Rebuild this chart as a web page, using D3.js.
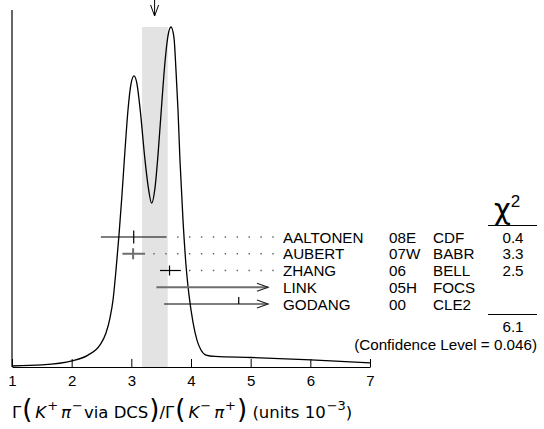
<!DOCTYPE html>
<html>
<head>
<meta charset="utf-8">
<script src="https://cdn.jsdelivr.net/npm/d3@7/dist/d3.min.js"></script>
<style>
  html, body { margin: 0; padding: 0; background: #fff; }
  svg { display: block; }
</style>
</head>
<body>
<div id="chart"></div>
<script>
// ---------------- data ----------------
// ideogram curve (x in units of 1e-3, y relative height)
const curveX = [1.0, 1.503, 2.006, 2.274, 2.475, 2.575, 2.642, 2.693, 2.743, 2.793, 2.843, 2.894, 2.944, 2.994, 3.045, 3.095, 3.145, 3.229, 3.279, 3.341, 3.396, 3.447, 3.514, 3.564, 3.614, 3.665, 3.715, 3.748, 3.782, 3.815, 3.866, 3.916, 3.966, 4.033, 4.1, 4.167, 4.251, 4.402, 5.005, 6.011, 7.0];
const curveY = [0.003, 0.006, 0.018, 0.035, 0.065, 0.100, 0.144, 0.197, 0.285, 0.388, 0.506, 0.638, 0.756, 0.832, 0.856, 0.832, 0.762, 0.609, 0.535, 0.482, 0.526, 0.624, 0.785, 0.897, 0.974, 1.0, 0.968, 0.874, 0.756, 0.609, 0.432, 0.300, 0.212, 0.132, 0.079, 0.050, 0.035, 0.031, 0.028, 0.021, 0.012];

// weighted average band and its marker
const avgValue = 3.39;
const avgBand = [3.18, 3.61];

// measurements
const names = ["AALTONEN", "AUBERT", "ZHANG", "LINK", "GODANG"];
const years = ["08E", "07W", "06", "05H", "00"];
const experiments = ["CDF", "BABR", "BELL", "FOCS", "CLE2"];
const centralValues = [3.04, 3.03, 3.64, null, 4.80];
const lowerEdges = [2.49, 2.85, 3.48, 3.42, 3.55];
const upperEdges = [3.59, 3.23, 3.83, null, null];   // null = extends off to the right (arrow)
const chi2Values = ["0.4", "3.3", "2.5", "", ""];
const chi2Total = "6.1";
const confidenceText = "(Confidence Level = 0.046)";

const xTicks = [1, 2, 3, 4, 5, 6, 7];

// ---------------- drawing ----------------
const W = 544, H = 429;
const svg = d3.select("#chart").append("svg").attr("width", W).attr("height", H);

const x = d3.scaleLinear().domain([1, 7]).range([12, 370]);
const y = d3.scaleLinear().domain([0, 1]).range([367, 27]);
const rowY = d3.scalePoint().domain(names).range([237, 304]);
const arrowEndX = 268;
const sans = "'Liberation Sans', Arial, Helvetica, sans-serif";
const fs = 15.2;

// band
svg.append("rect")
  .attr("x", x(avgBand[0])).attr("width", x(avgBand[1]) - x(avgBand[0]))
  .attr("y", y(1)).attr("height", y(0) - y(1))
  .attr("fill", "#e3e3e3");

// top arrow marking the average
const ax = x(avgValue);
svg.append("path")
  .attr("d", `M${ax},0 L${ax},16 M${ax - 4},5 L${ax},16 L${ax + 4},5`)
  .attr("fill", "none").attr("stroke", "#000").attr("stroke-width", 1);

// axes
svg.append("line").attr("x1", x(1)).attr("x2", x(1)).attr("y1", 10).attr("y2", y(0))
  .attr("stroke", "#000").attr("stroke-width", 1.2);

const xAxis = d3.axisBottom(x).tickValues(xTicks).tickFormat(d3.format("d"))
  .tickSizeInner(-8).tickSizeOuter(0).tickPadding(8);
const gx = svg.append("g").attr("transform", `translate(0,${y(0)})`).call(xAxis);
gx.select(".domain").attr("stroke", "#000").attr("stroke-width", 1.2);
gx.selectAll(".tick line").attr("stroke", "#000");
gx.selectAll(".tick text").attr("font-family", sans).attr("font-size", 15).attr("fill", "#000");

// curve
const curvePts = curveX.map((d, i) => [d, curveY[i]]);
svg.append("path")
  .datum(curvePts)
  .attr("d", d3.line().x(d => x(d[0])).y(d => y(d[1])).curve(d3.curveMonotoneX))
  .attr("fill", "none").attr("stroke", "#000").attr("stroke-width", 1.3);

// measurement rows
const grayRows = new Set(["AUBERT", "LINK"]);
const crossHalf = { AALTONEN: 6.5, AUBERT: 5.5, ZHANG: 5 };
names.forEach((n, i) => {
  const yy = rowY(n);
  const col = grayRows.has(n) ? "#6e6e6e" : "#000";
  const sw = grayRows.has(n) ? 2 : 1.2;
  const x0 = x(lowerEdges[i]);
  const hasUpper = upperEdges[i] !== null;
  const x1 = hasUpper ? x(upperEdges[i]) : arrowEndX;
  svg.append("line").attr("x1", x0).attr("x2", x1).attr("y1", yy).attr("y2", yy)
    .attr("stroke", col).attr("stroke-width", sw);
  if (!hasUpper) {
    svg.append("path")
      .attr("d", `M${arrowEndX - 11},${yy - 4} L${arrowEndX},${yy} L${arrowEndX - 11},${yy + 4}`)
      .attr("fill", "none").attr("stroke", "#222").attr("stroke-width", 1.2);
  }
  if (centralValues[i] !== null) {
    const cx = x(centralValues[i]);
    if (hasUpper) {
      const h = crossHalf[n] || 5;
      svg.append("line").attr("x1", cx).attr("x2", cx).attr("y1", yy - h).attr("y2", yy + h)
        .attr("stroke", col).attr("stroke-width", sw);
    } else {
      svg.append("line").attr("x1", cx).attr("x2", cx).attr("y1", yy - 7).attr("y2", yy)
        .attr("stroke", col).attr("stroke-width", 1.2);
    }
  }
  // dotted leader
  if (hasUpper) {
    const dots = d3.range(273, x1 + 6, -11.9);
    svg.selectAll(null).data(dots).enter().append("rect")
      .attr("x", d => d - 0.7).attr("y", yy - 0.7).attr("width", 1.4).attr("height", 1.4)
      .attr("fill", "#555");
  }
  const t = (txt, tx, anchor) => svg.append("text").attr("x", tx).attr("y", yy + 5.5)
    .attr("font-family", sans).attr("font-size", fs).attr("fill", "#000")
    .attr("text-anchor", anchor || "start").text(txt);
  t(n, 283);
  t(years[i], 389);
  t(experiments[i], 433);
  if (chi2Values[i]) t(chi2Values[i], 513, "middle");
});

// chi2 header
const chiT = svg.append("text").attr("x", 494).attr("y", 219)
  .attr("font-family", "'DejaVu Sans', sans-serif").attr("font-size", 29).attr("fill", "#000");
chiT.append("tspan").text("χ");
chiT.append("tspan").attr("dy", -12).attr("dx", 0).attr("font-size", 17).attr("font-family", sans).text("2");
svg.append("line").attr("x1", 488).attr("x2", 537).attr("y1", 225.5).attr("y2", 225.5)
  .attr("stroke", "#000").attr("stroke-width", 1.2);
svg.append("line").attr("x1", 488).attr("x2", 537).attr("y1", 314.5).attr("y2", 314.5)
  .attr("stroke", "#000").attr("stroke-width", 1.2);
svg.append("text").attr("x", 513).attr("y", 332).attr("text-anchor", "middle")
  .attr("font-family", sans).attr("font-size", fs).text(chi2Total);
svg.append("text").attr("x", 537).attr("y", 350).attr("text-anchor", "end")
  .attr("font-family", sans).attr("font-size", fs).text(confidenceText);

// x-axis title
const dv = "'DejaVu Sans', sans-serif";
const title = svg.append("text").attr("x", 12).attr("y", 418)
  .attr("font-family", dv).attr("font-size", 16.5).attr("fill", "#000");
const parts = [
  ["Γ", {}], ["(", { big: true }], ["K", { it: true }], ["+", { sup: true }], ["π", { it: true }], ["−", { sup: true }],
  ["via DCS", {}], [")", { big: true }], ["/Γ", {}], ["(", { big: true }], ["K", { it: true }], ["−", { sup: true }],
  ["π", { it: true }], ["+", { sup: true }], [")", { big: true }], ["\u00a0(units 10", {}], ["−3", { sup: true }], [")", {}]
];
let prevSup = false;
parts.forEach(([txt, o]) => {
  const ts = title.append("tspan").text(txt);
  let dy = 0;
  if (o.sup && !prevSup) dy = -8;
  if (!o.sup && prevSup) dy = 8;
  if (dy) ts.attr("dy", dy);
  if (o.sup) ts.attr("font-size", 13).attr("dx", 1);
  if (o.it) ts.attr("font-style", "italic").attr("dx", 3);
  if (o.big) ts.attr("font-size", 26).attr("dx", 1);
  if (txt === "via DCS") ts.attr("dx", 1);
  prevSup = !!o.sup;
});
</script>
</body>
</html>
